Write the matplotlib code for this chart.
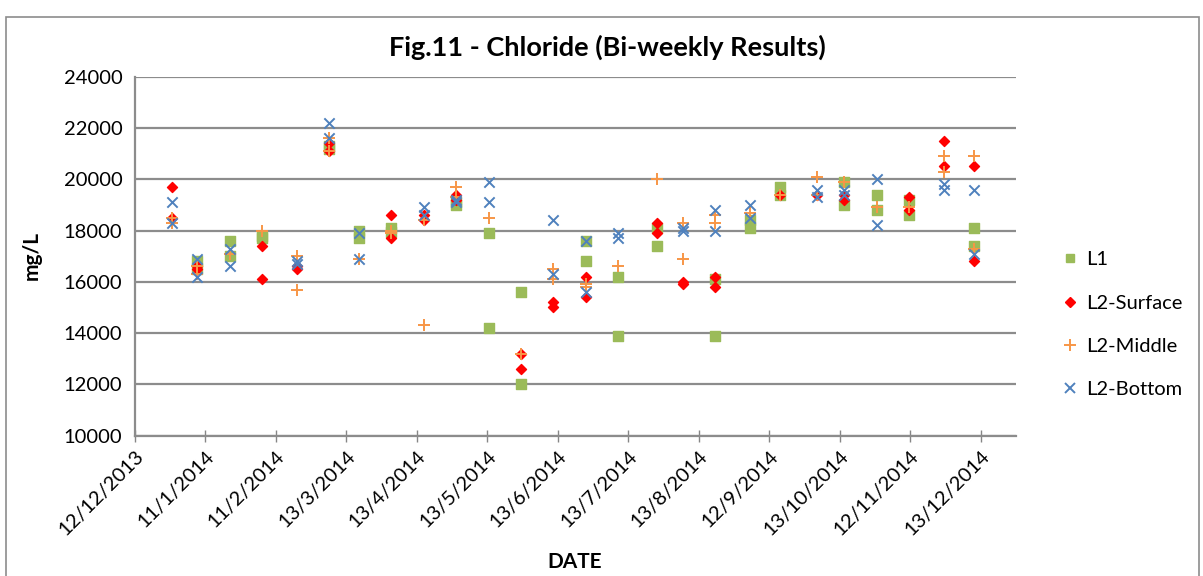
import matplotlib
matplotlib.use("Agg")
import matplotlib.pyplot as plt
import matplotlib.dates as mdates
import pandas as pd
from matplotlib.lines import Line2D

plt.rcParams['font.family'] = ['Lato', 'DejaVu Sans']

# L1
l1_dates = ['2014-01-08', '2014-01-08', '2014-01-22', '2014-01-22', '2014-02-05', '2014-02-05',
            '2014-03-06', '2014-03-06', '2014-03-19', '2014-03-19', '2014-04-02', '2014-04-02',
            '2014-04-30', '2014-04-30', '2014-05-14', '2014-05-14', '2014-05-28', '2014-05-28',
            '2014-06-25', '2014-06-25', '2014-07-09', '2014-07-09', '2014-07-26', '2014-07-26',
            '2014-08-20', '2014-08-20', '2014-09-04', '2014-09-04', '2014-09-17', '2014-09-17',
            '2014-10-15', '2014-10-15', '2014-10-29', '2014-10-29', '2014-11-12', '2014-11-12',
            '2014-12-10', '2014-12-10']
l1_values = [16800, 16500, 17600, 17000, 17800, 17700,
             21300, 21200, 18000, 17700, 18100, 17950,
             19100, 19000, 17900, 14200, 15600, 12000,
             17600, 16800, 16200, 13900, 18100, 17400,
             16100, 13900, 18400, 18100, 19700, 19400,
             19900, 19000, 19400, 18800, 19200, 18600,
             18100, 17400]

# L2-Surface
surf_dates = ['2013-12-28', '2013-12-28', '2014-01-08', '2014-01-08', '2014-02-05', '2014-02-05',
              '2014-02-20', '2014-02-20', '2014-03-06', '2014-03-06', '2014-04-02', '2014-04-02',
              '2014-04-16', '2014-04-16', '2014-04-30', '2014-04-30', '2014-05-28', '2014-05-28',
              '2014-06-11', '2014-06-11', '2014-06-25', '2014-06-25', '2014-07-26', '2014-07-26',
              '2014-08-06', '2014-08-06', '2014-08-20', '2014-08-20', '2014-09-17', '2014-10-03',
              '2014-10-15', '2014-10-15', '2014-11-12', '2014-11-12', '2014-11-27', '2014-11-27',
              '2014-12-10', '2014-12-10']
surf_values = [19700, 18500, 16600, 16500, 17400, 16100,
               16600, 16500, 21400, 21100, 18600, 17700,
               18600, 18400, 19400, 19200, 13200, 12600,
               15200, 15000, 16200, 15400, 18300, 17900,
               16000, 15900, 16200, 15800, 19400, 19400,
               19400, 19200, 19300, 18800, 21500, 20500,
               20500, 16800]

# L2-Middle
mid_dates = ['2013-12-28', '2013-12-28', '2014-01-08', '2014-01-08', '2014-01-22', '2014-02-05',
             '2014-02-20', '2014-02-20', '2014-03-06', '2014-03-06', '2014-03-19', '2014-04-02',
             '2014-04-02', '2014-04-16', '2014-04-16', '2014-04-30', '2014-04-30', '2014-05-14',
             '2014-05-28', '2014-06-11', '2014-06-11', '2014-06-25', '2014-06-25', '2014-07-09',
             '2014-07-26', '2014-08-06', '2014-08-06', '2014-08-20', '2014-08-20', '2014-09-04',
             '2014-09-17', '2014-10-03', '2014-10-03', '2014-10-15', '2014-10-29', '2014-11-12',
             '2014-11-27', '2014-11-27', '2014-12-10', '2014-12-10']
mid_values = [18500, 18300, 16600, 16300, 17100, 18000,
              17000, 15700, 21600, 21100, 16900, 18000,
              17900, 18400, 14300, 19700, 19300, 18500,
              13200, 16500, 16100, 15900, 15800, 16600,
              20000, 18300, 16900, 18600, 18300, 18700,
              19400, 20100, 19400, 19900, 18900, 18900,
              20900, 20300, 20900, 17300]

# L2-Bottom
bot_dates = ['2013-12-28', '2013-12-28', '2014-01-08', '2014-01-08', '2014-01-22', '2014-01-22',
             '2014-02-20', '2014-02-20', '2014-03-06', '2014-03-06', '2014-03-19', '2014-03-19',
             '2014-04-16', '2014-04-16', '2014-04-30', '2014-04-30', '2014-05-14', '2014-05-14',
             '2014-06-11', '2014-06-11', '2014-06-25', '2014-06-25', '2014-07-09', '2014-07-09',
             '2014-08-06', '2014-08-06', '2014-08-20', '2014-08-20', '2014-09-04', '2014-09-04',
             '2014-10-03', '2014-10-03', '2014-10-15', '2014-10-15', '2014-10-29', '2014-10-29',
             '2014-11-27', '2014-11-27', '2014-12-10', '2014-12-10']
bot_values = [19100, 18300, 16900, 16200, 17300, 16600,
              16800, 16700, 22200, 21600, 17900, 16900,
              18900, 18600, 19200, 19100, 19900, 19100,
              18400, 16300, 17600, 15600, 17900, 17700,
              18100, 18000, 18800, 18000, 19000, 18500,
              19600, 19300, 19600, 19400, 20000, 18200,
              19800, 19600, 19600, 17100]

axis_start = pd.Timestamp('2013-12-12')
tick_dates = [axis_start + pd.Timedelta(days=30.5 * i) for i in range(13)]
tick_labels = [f"{d.day}/{d.month}/{d.year}" for d in tick_dates]

fig = plt.figure(figsize=(12.03, 5.76), dpi=100)
ax = fig.add_axes([0.1122, 0.2436, 0.7324, 0.6232])

ax.scatter(pd.to_datetime(l1_dates), l1_values, marker='s', s=42, c='#9BBB59', label='L1', zorder=3)
ax.scatter(pd.to_datetime(surf_dates), surf_values, marker='D', s=26, c='#FF0000', label='L2-Surface', zorder=4)
ax.scatter(pd.to_datetime(mid_dates), mid_values, marker='+', s=75, c='#F79646', linewidths=1.4,
           label='L2-Middle', zorder=5)
ax.scatter(pd.to_datetime(bot_dates), bot_values, marker='x', s=55, c='#4F81BD', linewidths=1.4,
           label='L2-Bottom', zorder=6)

ax.set_xlim(mdates.date2num(axis_start), mdates.date2num(axis_start) + 381.3)
ax.set_ylim(10000, 24000)
ax.set_yticks(range(10000, 24001, 2000))
ax.set_xticks(tick_dates)
ax.set_xticklabels(tick_labels, rotation=45, ha='right', rotation_mode='anchor')
ax.tick_params(axis='x', direction='inout', length=9, width=1, color='#868686', labelsize=14.5, pad=4)
ax.tick_params(axis='y', length=0, labelsize=14.5, pad=9)
ax.grid(axis='y', color='#8c8c8c', linewidth=1.6)
ax.set_axisbelow(True)
for side in ['top', 'right']:
    ax.spines[side].set_visible(False)
for side in ['left', 'bottom']:
    ax.spines[side].set_color('#8c8c8c')
    ax.spines[side].set_linewidth(1.6)

fig.text(0.026, 0.556, 'mg/L', rotation=90, ha='center', va='center', fontsize=15, fontweight='bold')
fig.text(0.478, 0.024, 'DATE', ha='center', va='center', fontsize=15, fontweight='bold')
fig.text(0.505, 0.918, 'Fig.11 - Chloride (Bi-weekly Results)', ha='center', va='center',
         fontsize=19.5, fontweight='bold')

handles = [
    Line2D([], [], ls='', marker='s', ms=6, color='#9BBB59'),
    Line2D([], [], ls='', marker='D', ms=5, color='#FF0000'),
    Line2D([], [], ls='', marker='+', ms=8, mew=1.4, color='#F79646'),
    Line2D([], [], ls='', marker='x', ms=7, mew=1.4, color='#4F81BD'),
]
fig.legend(handles, ['L1', 'L2-Surface', 'L2-Middle', 'L2-Bottom'], loc='center left',
           bbox_to_anchor=(0.868, 0.436), frameon=False, fontsize=14.5, labelspacing=1.3,
           handlelength=0.8, handletextpad=0.4)

# chart area border
fig.add_artist(plt.Rectangle((0.005, -0.01), 0.992, 0.98, transform=fig.transFigure,
                             fill=False, edgecolor='#8c8c8c', linewidth=1.2))

fig.savefig('out.png', dpi=100)
